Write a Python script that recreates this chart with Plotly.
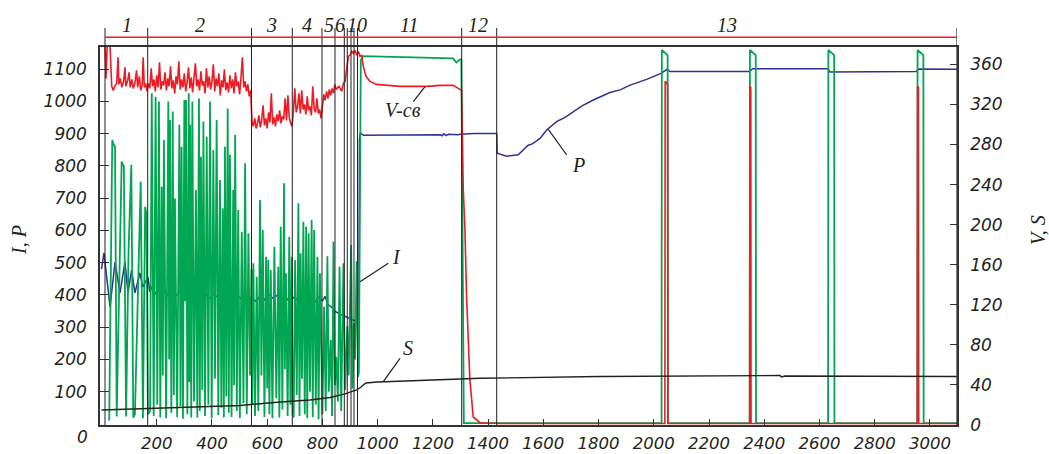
import plotly.graph_objects as go

# ---------------- data ----------------
# welding stages: boundaries (time axis) and labels
stage_bounds = [12.7, 167.3, 543.1, 690.9, 798.4, 845.5, 879.2, 890, 903.5, 914.3, 927, 1304.3, 1431, 3097.6]
stage_labels = ["1", "2", "3", "4", "5", "6", "10", "11", "12", "13"]
stage_label_x = [91, 357, 616, 745, 825, 864, 924, 1117, 1364, 2264]

# P / I (left axis) - blue trace
blue_x = [0, 9, 31, 49, 67, 85, 96, 109, 121, 139, 150, 168, 175, 185, 195, 205, 215, 225, 240, 255, 270,
          285, 300, 315, 330, 345, 360, 375, 390, 405, 420, 435, 450, 465, 480, 495, 510, 525, 543, 560,
          575, 590, 605, 620, 635, 650, 665, 680, 695, 710, 725, 740, 755, 770, 785, 800, 810, 820, 830,
          845, 860, 875, 890, 905, 918, 927, 932, 934, 937, 942, 950, 1000, 1100, 1200, 1226, 1234, 1240,
          1248, 1256, 1290, 1300, 1350, 1420, 1431, 1433, 1467, 1509, 1530, 1545, 1560, 1588, 1612, 1648,
          1680, 1708, 1740, 1781, 1841, 1880, 1914, 1974, 2028, 2047, 2059, 2200, 2346, 2358, 2500, 2630,
          2638, 2800, 2950, 2958, 3097]
blue_v = [480, 530, 363, 502, 406, 502, 406, 477, 406, 468, 425, 455, 410, 428, 402, 418, 396, 412, 400, 420, 398,
          410, 392, 408, 395, 415, 398, 405, 388, 402, 394, 410, 385, 400, 380, 396, 384, 398, 390, 380,
          398, 385, 402, 390, 398, 386, 395, 380, 392, 385, 395, 378, 388, 375, 392, 382, 395, 370, 365,
          350, 342, 336, 330, 325, 320, 316, 316, 880, 902, 898, 895, 895, 895, 895, 896, 893, 899,
          894, 898, 896, 898, 900, 900, 900, 839, 830, 834, 850, 864, 868, 885, 911, 937,
          951, 968, 986, 1004, 1027, 1036, 1050, 1068, 1087, 1099, 1092, 1092, 1092, 1101, 1101, 1101,
          1091, 1092, 1092, 1100, 1099]

# I (left axis) - green trace
green_x = [26, 28, 39, 42, 49, 55, 73, 81, 89, 98, 108, 115, 121, 142, 150, 158, 163, 168,
           176, 182, 189, 196, 202, 208, 213, 218, 222, 226, 234, 242, 245, 248, 253, 258, 262, 266, 274, 282,
           286, 290, 295, 300, 303, 306, 311, 316, 318, 321, 325, 329, 335, 342, 347, 353, 356, 360, 365, 369,
           375, 381, 387, 393, 399, 405, 411, 417, 423, 429, 434, 439, 443, 447, 452, 457, 461, 465, 471, 477,
           480, 484, 490, 495, 501, 508, 514, 520, 526, 532, 538, 543,
           546, 550, 556, 562, 568, 574, 579, 584, 590, 596, 600, 604, 608, 613, 619, 626, 633, 640, 644, 649,
           655, 661, 664, 668, 674, 680, 684, 689, 692,
           696, 701, 707, 713, 717, 721, 726, 731, 736, 741, 745, 750, 755, 761, 765, 770, 776, 782, 786, 791, 796,
           800, 806, 812, 818, 823, 830, 835, 840, 845, 850, 856, 862, 868, 876, 882, 890, 895, 904, 909, 914,
           918, 924, 929, 932, 939, 948, 1050, 1150, 1273, 1285, 1299, 1303, 1308, 1312,
           2028, 2029, 2050, 2051, 2347, 2348, 2369, 2370, 2631, 2632, 2653, 2654, 2954, 2955, 2976, 2977, 3097]
green_v = [14, 12, 880, 870, 859, 23, 813, 797, 23, 540, 803, 20, 30, 751, 18, 673, 650, 30,
           40, 1025, 25, 1014, 60, 999, 20, 735, 150, 880, 18, 999, 200, 942, 35, 968, 90, 699, 22, 927,
           55, 859, 16, 1004, 380, 1004, 30, 1025, 130, 927, 20, 999, 70, 725, 20, 1009, 40, 828, 105, 937,
           25, 890, 60, 999, 18, 849, 140, 942, 28, 756, 50, 668, 20, 859, 85, 978, 35, 834, 22, 725,
           120, 896, 40, 663, 18, 596, 65, 808, 30, 591, 150, 480,
           60, 498, 25, 456, 40, 694, 150, 601, 22, 518, 110, 508, 30, 477, 18, 549, 80, 487, 20, 611,
           45, 746, 170, 467, 25, 580, 60, 518, 30,
           20, 508, 90, 684, 25, 529, 140, 627, 30, 611, 18, 591, 100, 632, 22, 601, 60, 518, 15, 467, 120,
           30, 363, 40, 520, 100, 260, 25, 565, 120, 208, 70, 487, 40, 498, 105, 303, 150, 555, 110, 313,
           200, 504, 146, 160, 1128, 1140, 1138, 1137, 1133, 1120, 1130, 1128, 365, 3,
           3, 1159, 1143, 3, 3, 1159, 1143, 3, 3, 1159, 1143, 3, 3, 1159, 1143, 3, 3]

# V-св (right axis) - red trace; stages 2-5 sampled every 5 s
red_head_x = [12.7, 16.3, 21, 30.8, 37, 42.7, 48, 55, 60, 63, 68, 74, 80, 85, 88, 95, 100, 104, 110, 115, 121,
              127, 131, 137, 142, 147, 151, 155, 160, 165]
red_head_v = [380, 346, 380, 380, 338, 334, 338, 341, 367, 340, 346, 337, 343, 357, 338, 344, 352, 337, 345, 336, 341,
              354, 337, 348, 334, 339, 367, 337, 341, 333]
red_mid_start = 170
red_mid_step = 5
red_mid_v = [341, 336, 356, 338, 345, 333, 349, 337, 362, 335, 343, 339, 352, 334, 346, 338, 358, 336, 344, 331,
             348, 340, 363, 335, 345, 337, 351, 333, 342, 357, 336, 347, 332, 344, 361, 338, 345, 334, 353, 339,
             343, 331, 356, 337, 348, 335, 343, 360, 333, 346, 338, 351, 329, 344, 337, 355, 334, 342, 332, 349,
             336, 345, 331, 352, 338, 343, 330, 346, 367, 337, 343, 333, 340, 328, 334,
             303, 298, 306, 296, 301, 309, 297, 304, 319, 299, 306, 296, 312, 302, 331, 300, 307, 298, 310, 303,
             314, 301, 308, 305, 326, 304, 329, 307, 301, 298,
             313, 336, 312, 318, 331, 311, 334, 315, 320, 310, 328, 314, 318, 309, 338, 316, 312, 326, 311, 315, 306,
             322, 330, 324, 333, 326, 335, 329, 336, 331, 340]
red_tail_x = [850, 860, 870, 876, 882, 888, 894, 900, 906, 912, 918, 924, 930, 936, 942, 948, 958, 972, 996, 1081,
              1178, 1226, 1274, 1292, 1304, 1310, 1316, 1322, 1334, 1346, 1371, 1440,
              2040, 2041, 2050, 2051, 2347, 2348, 2351, 2352, 2954, 2955, 2958, 2959, 3097]
red_tail_v = [335, 338, 333, 341, 343, 354, 368, 369, 373, 371, 374, 369, 373, 368, 369, 358, 348, 343, 340, 338,
              338, 339, 339, 336, 334, 235, 195, 128, 45, 8, 2.3, 1.5,
              1.5, 343, 340, 1.5, 1.5, 338, 337, 1.5, 1.5, 338, 337, 1.5, 1.5]

# S (right axis) - black trace
s_x = [0, 168, 357, 502, 647, 755, 828, 882, 924, 940, 957, 1000, 1150, 1371, 1806, 2457, 2462, 2475, 3097]
s_v = [15, 16.5, 18, 19.5, 23, 25, 27.4, 31, 35, 37.9, 41.9, 42.9, 44.4, 46.6, 48.4, 49.4, 47.9, 48.9, 48.4]

x_ticks = list(range(200, 3001, 200))
left_ticks = list(range(100, 1101, 100))
right_ticks = list(range(0, 361, 40))

# ---------------- figure ----------------
RED = "#ED1C24"
GREEN = "#00A651"
BLUE = "#2E3192"
INK = "#231F20"
AX = "#333333"

red_x = red_head_x + [red_mid_start + red_mid_step * i for i in range(len(red_mid_v))] + red_tail_x
red_v = red_head_v + red_mid_v + red_tail_v

fig = go.Figure()
fig.add_trace(go.Scatter(x=blue_x, y=blue_v, mode="lines", line=dict(color=BLUE, width=1.5), yaxis="y"))
fig.add_trace(go.Scatter(x=green_x, y=green_v, mode="lines", line=dict(color=GREEN, width=1.8), yaxis="y"))
fig.add_trace(go.Scatter(x=red_x, y=red_v, mode="lines", line=dict(color=RED, width=1.6), yaxis="y2"))
fig.add_trace(go.Scatter(x=s_x, y=s_v, mode="lines", line=dict(color=INK, width=1.4), yaxis="y2"))

W, H = 1049, 454
ML, MR, MT, MB = 100, 92, 47, 29
PW, PH = W - ML - MR, H - MT - MB


def px(xp):
    return (xp - ML) / PW


def py(yp):
    return (H - MB - yp) / PH


tick_font = dict(family="DejaVu Sans", size=17, color=INK, style="italic")
serif = dict(family="Liberation Serif", size=20, color=INK, style="italic")

fig.update_layout(
    width=W, height=H,
    margin=dict(l=ML, r=MR, t=MT, b=MB, pad=0, autoexpand=False),
    paper_bgcolor="white", plot_bgcolor="white",
    showlegend=False,
    xaxis=dict(range=[-5.4, 3097.8], tickvals=x_ticks, ticks="inside", ticklen=6, tickcolor=AX,
               showline=True, linecolor=AX, linewidth=1.5, mirror=True, showgrid=False, zeroline=False,
               tickfont=dict(family="DejaVu Sans", size=16.5, color=INK, style="italic"),
               ticklabelstandoff=2, automargin=False),
    yaxis=dict(range=[-3.1, 1168.2], tickvals=left_ticks, ticks="inside", ticklen=9, tickcolor=AX,
               showline=True, linecolor=AX, linewidth=1.5, mirror=True, showgrid=False, zeroline=False,
               tickfont=tick_font, ticklabelstandoff=8, automargin=False),
    yaxis2=dict(range=[0, 377.3], tickvals=right_ticks, ticks="inside", ticklen=7, tickcolor=AX,
                overlaying="y", side="right", showline=True, linecolor=AX, linewidth=1.5,
                showgrid=False, zeroline=False, tickfont=tick_font, ticklabelstandoff=8, automargin=False),
)

# stage boundaries, reaching above the frame
for xb in stage_bounds:
    fig.add_shape(type="line", xref="x", yref="paper", x0=xb, x1=xb, y0=0, y1=py(28),
                  line=dict(color=INK, width=1))
# red strip above the frame
fig.add_shape(type="line", xref="x", yref="paper", x0=stage_bounds[0], x1=stage_bounds[-1],
              y0=py(37.3), y1=py(37.3), line=dict(color=RED, width=1.5))

# stage numbers
for lab, xl in zip(stage_labels, stage_label_x):
    fig.add_annotation(x=xl, y=py(25), xref="x", yref="paper", text=lab, showarrow=False,
                       font=dict(family="Liberation Serif", size=20, color=INK, style="italic"),
                       xanchor="center", yanchor="middle")

# axis titles
fig.add_annotation(x=px(19), y=py(240), xref="paper", yref="paper", text="I, P", textangle=-90,
                   showarrow=False, font=serif, xanchor="center", yanchor="middle")
fig.add_annotation(x=px(1038), y=py(230), xref="paper", yref="paper", text="V, S", textangle=-90,
                   showarrow=False, font=serif, xanchor="center", yanchor="middle")
fig.add_annotation(x=px(82), y=py(437), xref="paper", yref="paper", text="0", showarrow=False,
                   font=tick_font, xanchor="center", yanchor="middle")

# curve labels with leader lines
labels = [("V-св", 402.5, 110, (425, 86.7, 413.3, 101.7)),
          ("I", 396, 257, (388.3, 263.3, 360, 281.7)),
          ("S", 407.5, 348, (400, 358.3, 383.3, 381.7)),
          ("P", 578, 165, (566.7, 155, 548.3, 129.3))]
for txt, lx, ly, (ax0, ay0, ax1, ay1) in labels:
    fig.add_annotation(x=px(lx), y=py(ly), xref="paper", yref="paper", text=txt, showarrow=False,
                       font=serif, xanchor="center", yanchor="middle")
    fig.add_shape(type="line", xref="paper", yref="paper", x0=px(ax0), y0=py(ay0), x1=px(ax1), y1=py(ay1),
                  line=dict(color=INK, width=1.2))

fig.write_html("out.html")
